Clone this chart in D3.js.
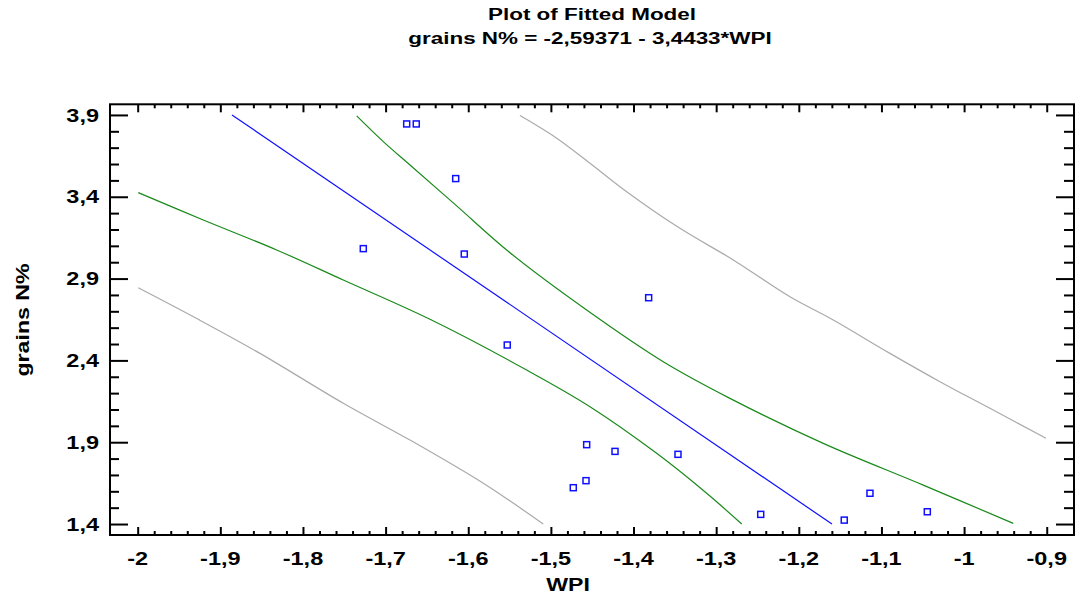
<!DOCTYPE html>
<html>
<head>
<meta charset="utf-8">
<script src="https://cdn.jsdelivr.net/npm/d3@7"></script>
<style>
  body { margin: 0; background: #fff; }
  text { font-family: "Liberation Sans", Arial, sans-serif; font-weight: bold; fill: #000; }
</style>
</head>
<body>
<div id="chart"></div>
<script>
// titles
var titleLines = ["Plot of Fitted Model", "grains N% = -2,59371 - 3,4433*WPI"];
var xTitle = "WPI";
var yTitle = "grains N%";

// ticks (labels use decimal comma)
var xTicks = [-2, -1.9, -1.8, -1.7, -1.6, -1.5, -1.4, -1.3, -1.2, -1.1, -1, -0.9];
var xTickLabels = ["-2", "-1,9", "-1,8", "-1,7", "-1,6", "-1,5", "-1,4", "-1,3", "-1,2", "-1,1", "-1", "-0,9"];
var yTicks = [1.4, 1.9, 2.4, 2.9, 3.4, 3.9];
var yTickLabels = ["1,4", "1,9", "2,4", "2,9", "3,4", "3,9"];

// observations
var wpi     = [-1.6745, -1.6629, -1.6152, -1.727, -1.6048, -1.3817, -1.5528, -1.4567, -1.4729, -1.4575, -1.4224, -1.3462, -1.2461, -1.145, -1.1139, -1.0445];
var grainsN = [3.845, 3.845, 3.511, 3.083, 3.050, 2.783, 2.494, 1.885, 1.622, 1.665, 1.844, 1.826, 1.459, 1.424, 1.588, 1.475];

// fitted model (from title)
var fitIntercept = -2.59371;
var fitSlope = -3.4433;

// confidence limits (green)
var confUpper = [[-1.735, 3.894], [-1.7028, 3.737], [-1.6705, 3.594], [-1.614, 3.344], [-1.5495, 3.058],
                 [-1.4567, 2.708], [-1.364, 2.392], [-1.2833, 2.168], [-1.1704, 1.893], [-1.0494, 1.638], [-0.9405, 1.404]];
var confLower = [[-1.9993, 3.425], [-1.9206, 3.258], [-1.8318, 3.075], [-1.7512, 2.891], [-1.6463, 2.651],
                 [-1.5293, 2.341], [-1.4527, 2.117], [-1.372, 1.832], [-1.3115, 1.588], [-1.2691, 1.4]];

// prediction limits (gray)
var predUpper = [[-1.5374, 3.896], [-1.493, 3.758], [-1.4527, 3.605], [-1.4083, 3.431], [-1.3438, 3.207],
                 [-1.2793, 3.014], [-1.2107, 2.789], [-1.1583, 2.647], [-1.0897, 2.443], [-1.0292, 2.270],
                 [-0.9687, 2.107], [-0.9009, 1.924]];
var predLower = [[-1.9993, 2.844], [-1.9267, 2.651], [-1.852, 2.443], [-1.7512, 2.138], [-1.6705, 1.913],
                 [-1.5818, 1.649], [-1.5092, 1.4]];

var W = 1076, H = 601;
var plot = {left: 110, right: 1074, top: 104.3, bottom: 535};

var svg = d3.select("#chart").append("svg")
    .attr("width", W)
    .attr("height", H);

var x = d3.scaleLinear().domain([-2.0335, -0.867]).range([plot.left, plot.right]);
var y = d3.scaleLinear().domain([1.333, 3.965]).range([plot.bottom, plot.top]);

// the original font is drawn wide, so stretch text along its baseline
function label(str, px, py, anchor, size, sx, rot) {
  svg.append("text")
      .attr("transform", "translate(" + px + "," + py + ") rotate(" + (rot || 0) + ") scale(" + sx + ",1)")
      .attr("text-anchor", anchor)
      .style("font-size", size + "px")
      .text(str);
}

// titles
label(titleLines[0], 592, 19.5, "middle", 17, 1.32);
label(titleLines[1], 590, 43.5, "middle", 17, 1.32);

// ticks
var xMinor = d3.range(0, 56).map(function(i) { return -2 + i * 0.02; }).filter(function(v, i) { return i % 5 != 0; });
var yMinor = d3.range(0, 26).map(function(i) { return 1.4 + i * 0.1; }).filter(function(v, i) { return i % 5 != 0; });

function addAxis(axis, tx, ty) {
  var g = svg.append("g")
      .attr("transform", "translate(" + tx + "," + ty + ")")
      .call(axis.tickFormat(""));
  g.select(".domain").remove();
  g.selectAll(".tick line").attr("stroke", "#000").attr("stroke-width", 2);
}

addAxis(d3.axisBottom(x).tickValues(xTicks).tickSize(-8), 0, plot.bottom);
addAxis(d3.axisBottom(x).tickValues(xMinor).tickSize(-4), 0, plot.bottom);
addAxis(d3.axisTop(x).tickValues(xTicks).tickSize(-8), 0, plot.top);
addAxis(d3.axisTop(x).tickValues(xMinor).tickSize(-4), 0, plot.top);
addAxis(d3.axisLeft(y).tickValues(yTicks).tickSize(-18), plot.left, 0);
addAxis(d3.axisLeft(y).tickValues(yMinor).tickSize(-9), plot.left, 0);
addAxis(d3.axisRight(y).tickValues(yTicks).tickSize(-18), plot.right, 0);
addAxis(d3.axisRight(y).tickValues(yMinor).tickSize(-10), plot.right, 0);

svg.append("rect")
    .attr("x", plot.left)
    .attr("y", plot.top)
    .attr("width", plot.right - plot.left)
    .attr("height", plot.bottom - plot.top)
    .attr("fill", "none")
    .attr("stroke", "#000")
    .attr("stroke-width", 2);

// tick labels
xTicks.forEach(function(v, i) { label(xTickLabels[i], x(v), 564.5, "middle", 18.5, 1.27); });
yTicks.forEach(function(v, i) { label(yTickLabels[i], 99, y(v) + 6.6, "end", 18.5, 1.27); });

// axis titles
label(xTitle, 568, 590.5, "middle", 18.5, 1.25);
label(yTitle, 29, 320, "middle", 18.5, 1.25, -90);

// curves
var line = d3.line()
    .x(function(d) { return x(d[0]); })
    .y(function(d) { return y(d[1]); })
    .curve(d3.curveCatmullRom.alpha(0.5));

function curve(data, color) {
  svg.append("path")
      .datum(data)
      .attr("d", line)
      .attr("fill", "none")
      .attr("stroke", color)
      .attr("stroke-width", 1.2);
}

curve(predUpper, "#aaaaaa");
curve(predLower, "#aaaaaa");
curve(confUpper, "#1a8a1a");
curve(confLower, "#1a8a1a");

// fitted line, clipped to the labelled y range
var yEnds = d3.extent(yTicks);
var fitLine = yEnds.map(function(v) { return [(v - fitIntercept) / fitSlope, v]; });
curve(fitLine, "#1010ff");

// points
svg.append("g").selectAll("rect")
    .data(wpi)
  .enter().append("rect")
    .attr("x", function(d) { return x(d) - 3; })
    .attr("y", function(d, i) { return y(grainsN[i]) - 3; })
    .attr("width", 6)
    .attr("height", 6)
    .attr("fill", "none")
    .attr("stroke", "#1010ff")
    .attr("stroke-width", 1.5);
</script>
</body>
</html>
